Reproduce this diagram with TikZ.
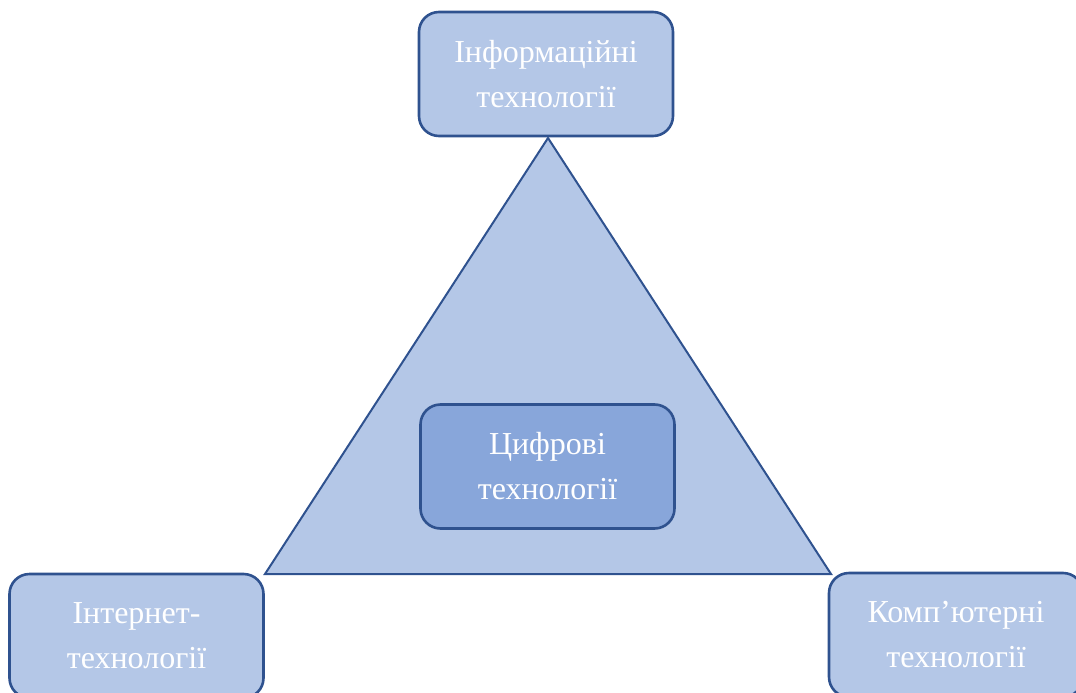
\documentclass[tikz,border=0pt]{standalone}
\usepackage{fontspec}
\setmainfont{Liberation Serif}
\definecolor{lightfill}{HTML}{B4C7E7}
\definecolor{darkfill}{HTML}{88A6DA}
\definecolor{edgeblue}{HTML}{2F528F}
\tikzset{
  box/.style={draw=edgeblue, line width=2.6pt, fill=lightfill, rounded corners=20pt,
    minimum width=254pt, minimum height=124pt, align=center, text=white,
    font=\fontsize{32}{45}\selectfont, inner sep=0pt},
  centerbox/.style={box, fill=darkfill},
  tri/.style={draw=edgeblue, line width=2pt, fill=lightfill, line join=miter}
}
\begin{document}
\begin{tikzpicture}[x=1pt,y=-1pt]
\useasboundingbox (0,0) rectangle (1076,693);
\clip (0,0) rectangle (1076,693);
\coordinate (apex) at (548,138);
\coordinate (bl) at (265,574);
\coordinate (br) at (831,574);
\draw[tri] (apex) -- (bl) -- (br) -- cycle;
\node[box] (info) at (546,74) {Інформаційні\\технології};
\node[centerbox] (digital) at (547.5,466.5) {Цифрові\\технології};
\node[box] (internet) at (136.5,636) {Інтернет-\\технології};
\node[box] (comp) at (956,635) {Комп’ютерні\\технології};
\end{tikzpicture}
\end{document}
